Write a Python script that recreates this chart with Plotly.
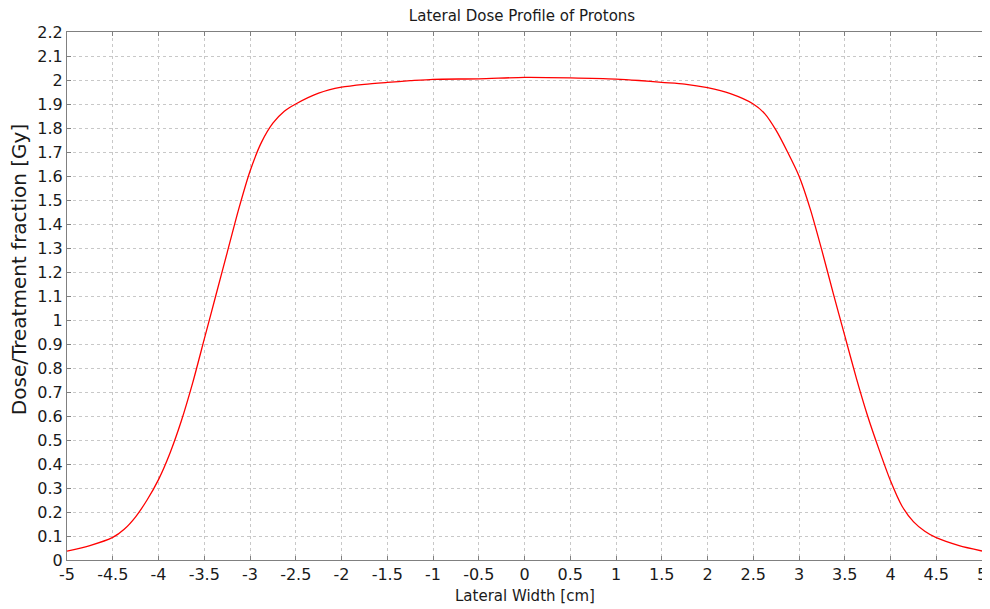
import plotly.graph_objects as go

width_cm = [-5.0, -4.75, -4.5, -4.375, -4.25, -4.125, -4.0, -3.875, -3.75, -3.625, -3.5, -3.375,
            -3.25, -3.125, -3.0, -2.875, -2.75, -2.625, -2.5, -2.25, -2.0, -1.75, -1.5, -1.25,
            -1.0, -0.5, 0.0, 0.5, 1.0, 1.25, 1.5, 1.75, 2.0, 2.25, 2.5, 2.625, 2.75, 2.875,
            3.0, 3.125, 3.25, 3.375, 3.5, 3.625, 3.75, 3.875, 4.0, 4.125, 4.25, 4.375, 4.5,
            4.75, 5.0]
dose_gy = [0.037, 0.06, 0.094, 0.128, 0.18, 0.25, 0.335, 0.445, 0.58, 0.74, 0.92, 1.1,
           1.28, 1.46, 1.62, 1.74, 1.82, 1.87, 1.9, 1.945, 1.97, 1.982, 1.99, 1.997,
           2.003, 2.005, 2.011, 2.009, 2.004, 1.998, 1.99, 1.983, 1.968, 1.943, 1.9, 1.86, 1.79, 1.7,
           1.6, 1.46, 1.29, 1.11, 0.935, 0.76, 0.6, 0.46, 0.33, 0.225, 0.16, 0.12, 0.093,
           0.06, 0.0375]

x_ticks = [-5, -4.5, -4, -3.5, -3, -2.5, -2, -1.5, -1, -0.5, 0, 0.5, 1, 1.5, 2, 2.5, 3, 3.5, 4, 4.5, 5]
x_labels = ["-5", "-4.5", "-4", "-3.5", "-3", "-2.5", "-2", "-1.5", "-1", "-0.5", "0", "0.5",
            "1", "1.5", "2", "2.5", "3", "3.5", "4", "4.5", "5"]
y_ticks = [round(i * 0.1, 1) for i in range(23)]
y_labels = ["0", "0.1", "0.2", "0.3", "0.4", "0.5", "0.6", "0.7", "0.8", "0.9", "1", "1.1",
            "1.2", "1.3", "1.4", "1.5", "1.6", "1.7", "1.8", "1.9", "2", "2.1", "2.2"]

FONT = "DejaVu Sans"
TXT = "#1a1a1a"
W, H = 982, 601  # page body adds an 8px margin

fig = go.Figure()
fig.add_trace(go.Scatter(x=width_cm, y=dose_gy, mode="lines",
                         line=dict(color="#ff0000", width=1.3, shape="spline", smoothing=0.7),
                         showlegend=False, hoverinfo="skip"))

axis_common = dict(showline=True, linecolor="#808080", linewidth=1, mirror="ticks",
                   ticks="inside", ticklen=4, tickcolor="#808080",
                   showgrid=True, gridcolor="#c8c8c8", griddash="dot", gridwidth=1,
                   zeroline=False, automargin=False,
                   tickfont=dict(family=FONT, size=16, color=TXT))

fig.update_layout(
    width=W, height=H,
    paper_bgcolor="white", plot_bgcolor="white",
    margin=dict(l=59, r=8, t=24, b=49, autoexpand=False),
    title=dict(text="Lateral Dose Profile of Protons", x=514 / W, xanchor="center",
               xref="container", yref="container", y=1 - 8 / H, yanchor="middle",
               pad=dict(t=0, b=0, l=0, r=0),
               font=dict(family=FONT, size=15, color=TXT)),
    xaxis=dict(range=[-5, 5], tickvals=x_ticks, ticktext=x_labels, **axis_common),
    yaxis=dict(range=[0, 2.2], tickvals=y_ticks, ticktext=y_labels, **axis_common),
    annotations=[
        dict(text="Lateral Width [cm]", xref="paper", yref="paper", x=0.5, y=0,
             xanchor="center", yanchor="middle", yshift=-36, showarrow=False,
             font=dict(family=FONT, size=15, color=TXT)),
        dict(text="Dose/Treatment fraction [Gy]", xref="paper", yref="paper", x=0, y=0.549,
             xanchor="center", yanchor="middle", xshift=-48, textangle=-90, showarrow=False,
             font=dict(family=FONT, size=20, color=TXT)),
    ],
)

fig.write_html("out.html")
